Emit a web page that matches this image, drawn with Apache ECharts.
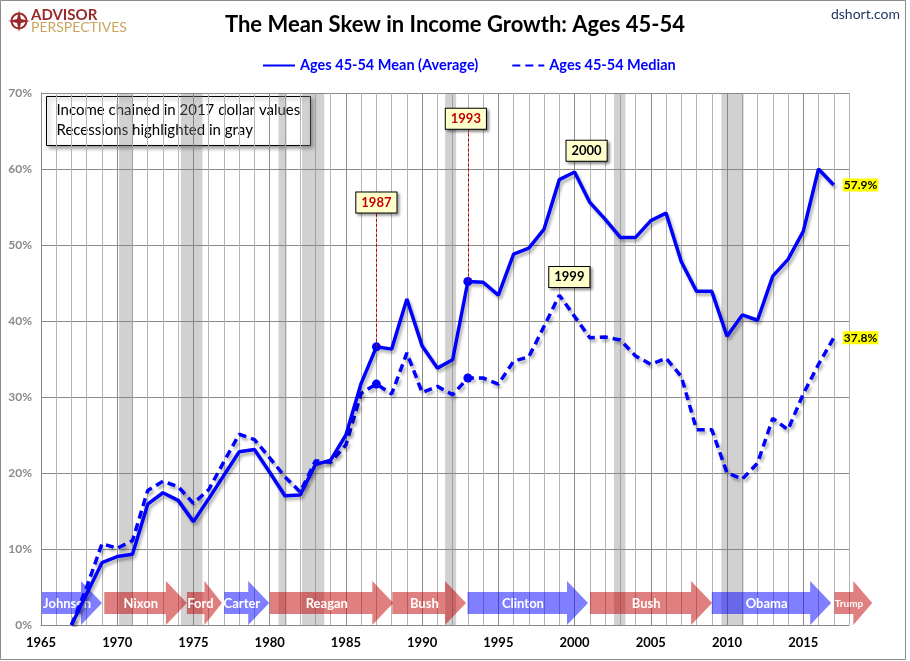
<!DOCTYPE html>
<html>
<head>
<meta charset="utf-8">
<title>The Mean Skew in Income Growth: Ages 45-54</title>
<script src="https://cdn.jsdelivr.net/npm/echarts@6/dist/echarts.min.js"></script>
<style>
    html, body { margin: 0; padding: 0; background: #fff; }
    #main { width: 910px; height: 661px; }
</style>
</head>
<body>
<div id="main"></div>
<script>
// years of the series (growth since 1967)
var years = [1967, 1968, 1969, 1970, 1971, 1972, 1973, 1974, 1975, 1976,
    1977, 1978, 1979, 1980, 1981, 1982, 1983, 1984, 1985, 1986,
    1987, 1988, 1989, 1990, 1991, 1992, 1993, 1994, 1995, 1996,
    1997, 1998, 1999, 2000, 2001, 2002, 2003, 2004, 2005, 2006,
    2007, 2008, 2009, 2010, 2011, 2012, 2013, 2014, 2015, 2016, 2017];
// Ages 45-54 mean (average) income growth, %
var meanGrowth = [0, 4.1, 8.2, 9.0, 9.3, 15.9, 17.4, 16.4, 13.6, 16.6,
    19.7, 22.8, 23.1, 20.1, 17.0, 17.1, 21.1, 21.7, 25.0, 31.8,
    36.6, 36.3, 42.9, 36.7, 33.8, 34.9, 45.2, 45.1, 43.4, 48.8,
    49.6, 52.1, 58.6, 59.6, 55.6, 53.4, 51.0, 51.0, 53.2, 54.2,
    47.8, 43.9, 43.9, 38.0, 40.8, 40.1, 45.9, 48.1, 51.8, 60.0, 57.9];
// Ages 45-54 median income growth, %
var medianGrowth = [0, 5.0, 10.7, 10.1, 11.1, 17.7, 18.9, 18.2, 16.0, 17.8,
    21.5, 25.1, 24.4, 22.0, 19.5, 17.5, 21.6, 21.4, 23.7, 30.5,
    31.7, 30.4, 35.8, 30.6, 31.4, 30.3, 32.5, 32.5, 31.7, 34.7,
    35.3, 39.3, 43.4, 40.6, 37.8, 37.9, 37.5, 35.4, 34.3, 35.1,
    32.7, 25.7, 25.7, 20.0, 19.2, 21.3, 27.2, 25.7, 30.4, 34.3, 37.8];
// years that get a dot on both lines
var markedYears = [1987, 1993];
// recessions (fractional years as drawn)
var recessionStart = [1970.12, 1974.17, 1980.58, 1982.12, 1991.51, 2002.58, 2009.63];
var recessionEnd = [1971.04, 1975.59, 1981.11, 1983.58, 1992.23, 2003.33, 2011.09];
// presidents
var presidentNames = ['Johnson', 'Nixon', 'Ford', 'Carter', 'Reagan', 'Bush', 'Clinton', 'Bush', 'Obama', 'Trump'];
var presidentStart = [1965.06, 1969.15, 1974.57, 1977.02, 1980.02, 1988.04, 1992.98, 2001.01, 2009.0, 2017.05];
var presidentEnd = [1969.0, 1974.57, 1976.87, 1979.97, 1988.11, 1992.88, 2000.88, 2009.02, 2016.83, 2019.52];
var presidentParty = ['D', 'R', 'R', 'D', 'R', 'R', 'D', 'R', 'D', 'R'];
// x axis ticks
var tickYears = [1965, 1970, 1975, 1980, 1985, 1990, 1995, 2000, 2005, 2010, 2015];

var FONT = 'Lato, "Open Sans", sans-serif';

var chart = echarts.init(document.getElementById('main'));

function valueAt(arr, year) {
    return arr[years.indexOf(year)];
}

// build series data: dots on marked years
function buildData(vals) {
    return years.map(function (y, i) {
        var item = {value: [y, vals[i]]};
        if (markedYears.indexOf(y) >= 0) {
            item.symbol = 'circle';
            item.symbolSize = 9;
        }
        return item;
    });
}

// yellow value tag at the end of a line
var endTag = {
    show: true,
    distance: 9,
    formatter: function (p) { return p.value[1].toFixed(1) + '%'; },
    backgroundColor: '#ffff00',
    color: '#000',
    fontFamily: FONT,
    fontWeight: 'bold',
    fontSize: 12,
    padding: [1, 1, 0, 1]
};

// callout box style
function callout(text, color, offset) {
    return {
        show: true,
        position: 'inside',
        formatter: text,
        offset: offset || [0, 0],
        color: color,
        fontFamily: FONT,
        fontWeight: 'bold',
        fontSize: 13,
        backgroundColor: '#ffffcc',
        borderColor: '#000',
        borderWidth: 1,
        padding: [4, 5, 3, 5],
        shadowColor: 'rgba(0,0,0,0.45)',
        shadowBlur: 3,
        shadowOffsetX: 2,
        shadowOffsetY: 2
    };
}

function renderRecession(params, api) {
    var a = api.coord([api.value(0), 70]);
    var b = api.coord([api.value(1), 0]);
    return {
        type: 'rect',
        shape: {x: a[0], y: a[1], width: b[0] - a[0], height: b[1] - a[1]},
        style: {fill: 'rgba(128,128,128,0.36)'}
    };
}

function renderArrow(params, api) {
    var a = api.coord([api.value(0), 0]);
    var b = api.coord([api.value(1), 0]);
    var base = a[1];
    var len = b[0] - a[0];
    var head = Math.min(21, len * 0.5);
    var neck = b[0] - head;
    var name = presidentNames[params.dataIndex];
    var dem = presidentParty[params.dataIndex] === 'D';
    var fs = (len < 40 && name.length > 4) ? 10 : 13;
    return {
        type: 'group',
        children: [{
            type: 'polygon',
            shape: {points: [[a[0], base - 33], [neck, base - 33], [neck, base - 44], [b[0], base - 22],
                [neck, base], [neck, base - 11], [a[0], base - 11]]},
            style: {fill: dem ? 'rgba(0,0,255,0.5)' : 'rgba(192,0,0,0.5)'}
        }, {
            type: 'text',
            style: {
                text: name,
                x: (a[0] + b[0]) / 2 - head * 0.23,
                y: base - 21,
                align: 'center',
                verticalAlign: 'middle',
                fill: '#fff',
                font: 'bold ' + fs + 'px ' + FONT
            }
        }]
    };
}

var option = {
    animation: false,
    backgroundColor: '#fff',
    textStyle: {fontFamily: FONT},
    title: {
        text: 'The Mean Skew in Income Growth: Ages 45-54',
        left: 'center',
        top: 9,
        textStyle: {fontFamily: FONT, fontWeight: 'bold', fontSize: 22, color: '#000'}
    },
    legend: {
        top: 53,
        left: 257,
        itemWidth: 32,
        itemHeight: 12,
        itemGap: 33,
        itemStyle: {opacity: 0},
        data: ['Ages 45-54 Mean (Average)', 'Ages 45-54 Median'],
        textStyle: {fontFamily: FONT, fontWeight: 'bold', fontSize: 14.5, color: '#0000ff'}
    },
    grid: {left: 41, right: 61, top: 93, bottom: 36},
    xAxis: {
        type: 'value',
        min: 1965,
        max: 2018,
        interval: 1,
        axisLine: {show: true, lineStyle: {color: '#888', width: 1}},
        axisTick: {show: false},
        axisLabel: {
            color: '#000',
            fontFamily: FONT,
            fontWeight: 'bold',
            fontSize: 13,
            margin: 11,
            showMaxLabel: true,
            formatter: function (v) { return tickYears.indexOf(v) >= 0 ? String(v) : ''; }
        },
        splitLine: {
            show: true,
            lineStyle: {color: ['#8c8c8c', '#b4b4b4', '#b4b4b4', '#b4b4b4', '#b4b4b4'], width: 1}
        }
    },
    yAxis: {
        type: 'value',
        min: 0,
        max: 70,
        interval: 10,
        axisLine: {show: true, lineStyle: {color: '#888', width: 1}},
        axisTick: {show: false},
        axisLabel: {
            color: '#8a8a8a',
            fontFamily: FONT,
            fontWeight: 'bold',
            fontSize: 12,
            margin: 9,
            formatter: '{value}%'
        },
        splitLine: {show: true, lineStyle: {color: '#8c8c8c', width: 1}}
    },
    graphic: [
        // outer frame
        {type: 'rect', shape: {x: 0.5, y: 0.5, width: 905, height: 659},
            style: {fill: 'none', stroke: '#8c8c8c', lineWidth: 1}, silent: true},
        // logo
        {type: 'circle', shape: {cx: 19, cy: 21, r: 7.5},
            style: {fill: 'none', stroke: '#9b2b2b', lineWidth: 2}},
        {type: 'polygon', shape: {points: [[19, 10], [21, 19], [30, 21], [21, 23], [19, 32], [17, 23], [8, 21], [17, 19]]},
            style: {fill: '#9b2b2b'}},
        {type: 'text', left: 31, top: 8,
            style: {text: 'ADVISOR', font: 'bold 15px ' + FONT, fill: '#9b2b2b'}},
        {type: 'text', left: 31, top: 20,
            style: {text: 'PERSPECTIVES', font: '14px ' + FONT, fill: '#c9a45c'}},
        {type: 'text', right: 10, top: 7,
            style: {text: 'dshort.com', font: '14px ' + FONT, fill: '#1f3864'}},
        // note box
        {type: 'group', left: 46, top: 96, children: [
            {type: 'rect', shape: {x: 0, y: 0, width: 264, height: 49},
                style: {fill: '#fff', stroke: '#000', lineWidth: 1,
                    shadowColor: 'rgba(0,0,0,0.4)', shadowBlur: 4, shadowOffsetX: 2, shadowOffsetY: 2}},
            {type: 'text', x: 10, y: 6,
                style: {text: 'Income chained in 2017 dollar values', font: '15px ' + FONT, fill: '#000'}},
            {type: 'text', x: 10, y: 26,
                style: {text: 'Recessions highlighted in gray', font: '15px ' + FONT, fill: '#000'}}
        ]}
    ],
    series: [
        {
            name: 'recessions',
            type: 'custom',
            z: 1,
            silent: true,
            renderItem: renderRecession,
            data: recessionStart.map(function (s, i) { return [s, recessionEnd[i]]; })
        },
        {
            name: 'presidents',
            type: 'custom',
            z: 2,
            silent: true,
            clip: false,
            renderItem: renderArrow,
            data: presidentStart.map(function (s, i) { return [s, presidentEnd[i]]; })
        },
        {
            name: 'Ages 45-54 Mean (Average)',
            type: 'line',
            z: 4,
            symbol: 'none',
            showSymbol: true,
            itemStyle: {color: '#0000ff'},
            lineStyle: {color: '#0000ff', width: 3.5,
                shadowColor: 'rgba(0,0,0,0.3)', shadowBlur: 3, shadowOffsetX: 2, shadowOffsetY: 3},
            endLabel: endTag,
            data: buildData(meanGrowth),
            markLine: {
                silent: true,
                symbol: 'none',
                label: {show: false},
                lineStyle: {color: '#c00000', type: [3, 2], width: 1},
                data: [
                    [{coord: [1987, valueAt(meanGrowth, 1987)]}, {coord: [1987, 54.1]}],
                    [{coord: [1993, valueAt(meanGrowth, 1993)]}, {coord: [1993, 65.1]}]
                ]
            },
            markPoint: {
                silent: true,
                symbolSize: 0,
                data: [
                    {coord: [1987, 55.6], label: callout('1987', '#c00000')},
                    {coord: [1993, 66.6], label: callout('1993', '#c00000', [-2, 0])},
                    {coord: [2000, 62.4], label: callout('2000', '#000', [12, 0])},
                    {coord: [1999, 45.8], label: callout('1999', '#000', [10, 0])}
                ]
            }
        },
        {
            name: 'Ages 45-54 Median',
            type: 'line',
            z: 3,
            symbol: 'none',
            showSymbol: true,
            itemStyle: {color: '#0000ff'},
            lineStyle: {color: '#0000ff', width: 3.5, type: [8, 5],
                shadowColor: 'rgba(0,0,0,0.3)', shadowBlur: 3, shadowOffsetX: 2, shadowOffsetY: 3},
            endLabel: endTag,
            data: buildData(medianGrowth)
        }
    ]
};

chart.setOption(option);
</script>
</body>
</html>
